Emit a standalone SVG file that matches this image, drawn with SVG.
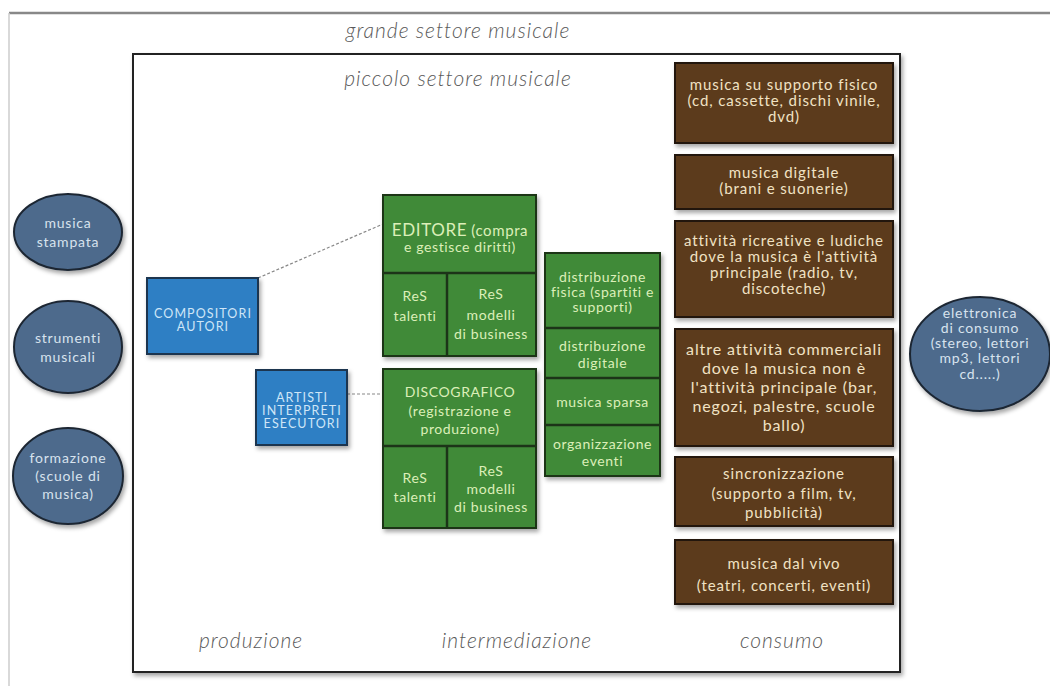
<svg xmlns="http://www.w3.org/2000/svg" width="1050" height="686" viewBox="0 0 1050 686">
<defs>
<filter id="sh" x="-10%" y="-10%" width="130%" height="130%">
<feDropShadow dx="2" dy="3" stdDeviation="2" flood-color="#000" flood-opacity="0.35"/>
</filter>
</defs>
<style>
text{font-family:Lato,"Open Sans","DejaVu Sans",sans-serif;text-anchor:middle}
.lbl{font-style:italic;font-weight:300;fill:#5a5a5a;font-size:21px;letter-spacing:1px}
.brown{fill:#5b3b1c;stroke:#24160a;stroke-width:2}
.bt{fill:#f1e2c4;font-size:15px;letter-spacing:0.9px}
.bt4{fill:#f1e2c4;font-size:16px;letter-spacing:0.9px}
.green{fill:#3f8a38;stroke:#1c3418;stroke-width:2}
.gline{stroke:#1c3418;stroke-width:2.5}
.gt{fill:#dcefb8;font-size:14px;letter-spacing:0.6px}
.blue{fill:#2f7fc4;stroke:#1b3550;stroke-width:2}
.blt{fill:#cfe6f7;font-size:12.5px;letter-spacing:1.1px}
.ell{fill:#4d6a8c;stroke:#1c2633;stroke-width:2}
.et{fill:#d8e3ee;font-size:14px;letter-spacing:0.8px}
.conn{stroke:#888;stroke-width:1.2;stroke-dasharray:3 2;fill:none}
</style>
<rect width="1050" height="686" fill="#fff"/>
<line x1="9" y1="13" x2="1050" y2="13" stroke="#888" stroke-width="2.5"/>
<line x1="9" y1="13" x2="9" y2="686" stroke="#ccc" stroke-width="1.5"/>
<text class="lbl" x="458" y="38">grande settore musicale</text>

<g id="inner-box">
<rect x="133" y="54" width="767" height="618" fill="#fff" stroke="#222" stroke-width="2" filter="url(#sh)"/>
<text class="lbl" x="458" y="86">piccolo settore musicale</text>
<text class="lbl" x="251" y="648">produzione</text>
<text class="lbl" x="517" y="648">intermediazione</text>
<text class="lbl" x="782" y="648">consumo</text>
</g>

<g id="connectors">
<line class="conn" x1="258" y1="278" x2="383" y2="224"/>
<line class="conn" x1="347" y1="394" x2="383" y2="394"/>
</g>

<g id="musica-stampata">
<ellipse class="ell" cx="68" cy="232" rx="54" ry="38" filter="url(#sh)"/>
<text class="et" x="68" y="228">musica</text>
<text class="et" x="68" y="247">stampata</text>
</g>
<g id="strumenti-musicali">
<ellipse class="ell" cx="68" cy="347" rx="54" ry="46" filter="url(#sh)"/>
<text class="et" x="68" y="343">strumenti</text>
<text class="et" x="68" y="362">musicali</text>
</g>
<g id="formazione">
<ellipse class="ell" cx="68" cy="476" rx="55" ry="48" filter="url(#sh)"/>
<text class="et" x="68" y="463" font-size="15px">formazione</text>
<text class="et" x="68" y="481" font-size="15px">(scuole di</text>
<text class="et" x="68" y="499" font-size="15px">musica)</text>
</g>

<g id="compositori">
<rect class="blue" x="147" y="278" width="111" height="76" filter="url(#sh)"/>
<text class="blt" x="203" y="318">COMPOSITORI</text>
<text class="blt" x="203" y="331">AUTORI</text>
</g>
<g id="artisti">
<rect class="blue" x="256" y="370" width="91" height="75" filter="url(#sh)"/>
<text class="blt" x="302" y="402">ARTISTI</text>
<text class="blt" x="302" y="415">INTERPRETI</text>
<text class="blt" x="302" y="428">ESECUTORI</text>
</g>

<g id="editore">
<rect class="green" x="383" y="195" width="153" height="161" filter="url(#sh)"/>
<line class="gline" x1="383" y1="273" x2="536" y2="273"/>
<line class="gline" x1="447" y1="273" x2="447" y2="356"/>
<text class="gt" x="460" y="236"><tspan font-size="17px">EDITORE</tspan> <tspan font-size="15px">(compra</tspan></text>
<text class="gt" x="460" y="252" font-size="14.5px">e gestisce diritti)</text>
<text class="gt" x="415" y="301">ReS</text>
<text class="gt" x="415" y="321">talenti</text>
<text class="gt" x="491" y="299">ReS</text>
<text class="gt" x="491" y="320">modelli</text>
<text class="gt" x="491" y="339">di business</text>
</g>

<g id="discografico">
<rect class="green" x="383" y="369" width="153" height="159" filter="url(#sh)"/>
<line class="gline" x1="383" y1="446" x2="536" y2="446"/>
<line class="gline" x1="447" y1="446" x2="447" y2="528"/>
<text class="gt" x="460" y="397" font-size="20px" letter-spacing="1.6px">DISCOGRAFICO</text>
<text class="gt" x="460" y="416" font-size="15px">(registrazione e</text>
<text class="gt" x="460" y="434" font-size="15px">produzione)</text>
<text class="gt" x="415" y="483">ReS</text>
<text class="gt" x="415" y="502">talenti</text>
<text class="gt" x="491" y="476">ReS</text>
<text class="gt" x="491" y="494">modelli</text>
<text class="gt" x="491" y="512">di business</text>
</g>

<g id="distribuzione">
<rect class="green" x="545" y="253" width="115" height="223" filter="url(#sh)"/>
<line class="gline" x1="545" y1="328" x2="660" y2="328"/>
<line class="gline" x1="545" y1="378" x2="660" y2="378"/>
<line class="gline" x1="545" y1="425" x2="660" y2="425"/>
<text class="gt" x="602.5" y="282">distribuzione</text>
<text class="gt" x="602.5" y="297" letter-spacing="0.3px">fisica (spartiti e</text>
<text class="gt" x="602.5" y="312">supporti)</text>
<text class="gt" x="602.5" y="351">distribuzione</text>
<text class="gt" x="602.5" y="368">digitale</text>
<text class="gt" x="602.5" y="407">musica sparsa</text>
<text class="gt" x="602.5" y="449">organizzazione</text>
<text class="gt" x="602.5" y="466">eventi</text>
</g>

<g id="supporto-fisico">
<rect class="brown" x="675" y="63" width="218" height="80" filter="url(#sh)"/>
<text class="bt" x="784" y="90">musica su supporto fisico</text>
<text class="bt" x="784" y="106">(cd, cassette, dischi vinile,</text>
<text class="bt" x="784" y="122">dvd)</text>
</g>
<g id="musica-digitale">
<rect class="brown" x="675" y="155" width="218" height="54" filter="url(#sh)"/>
<text class="bt" x="784" y="178">musica digitale</text>
<text class="bt" x="784" y="194">(brani e suonerie)</text>
</g>
<g id="attivita-ricreative">
<rect class="brown" x="675" y="221" width="218" height="96" filter="url(#sh)"/>
<text class="bt" x="784" y="246">attività ricreative e ludiche</text>
<text class="bt" x="784" y="262">dove la musica è l'attività</text>
<text class="bt" x="784" y="278">principale (radio, tv,</text>
<text class="bt" x="784" y="294">discoteche)</text>
</g>
<g id="altre-attivita">
<rect class="brown" x="675" y="329" width="218" height="117" filter="url(#sh)"/>
<text class="bt4" x="784" y="355">altre attività commerciali</text>
<text class="bt4" x="784" y="374">dove la musica non è</text>
<text class="bt4" x="784" y="393">l'attività principale (bar,</text>
<text class="bt4" x="784" y="412">negozi, palestre, scuole</text>
<text class="bt4" x="784" y="431">ballo)</text>
</g>
<g id="sincronizzazione">
<rect class="brown" x="675" y="457" width="218" height="69" filter="url(#sh)"/>
<text class="bt" x="784" y="479">sincronizzazione</text>
<text class="bt" x="784" y="499">(supporto a film, tv,</text>
<text class="bt" x="784" y="518">pubblicità)</text>
</g>
<g id="musica-dal-vivo">
<rect class="brown" x="675" y="540" width="218" height="64" filter="url(#sh)"/>
<text class="bt" x="784" y="569">musica dal vivo</text>
<text class="bt" x="784" y="591">(teatri, concerti, eventi)</text>
</g>

<g id="elettronica">
<ellipse class="ell" cx="980" cy="354" rx="70" ry="57" filter="url(#sh)"/>
<text class="et" x="980" y="318">elettronica</text>
<text class="et" x="980" y="333">di consumo</text>
<text class="et" x="980" y="348">(stereo, lettori</text>
<text class="et" x="980" y="363">mp3, lettori</text>
<text class="et" x="980" y="379">cd.....)</text>
</g>
</svg>
